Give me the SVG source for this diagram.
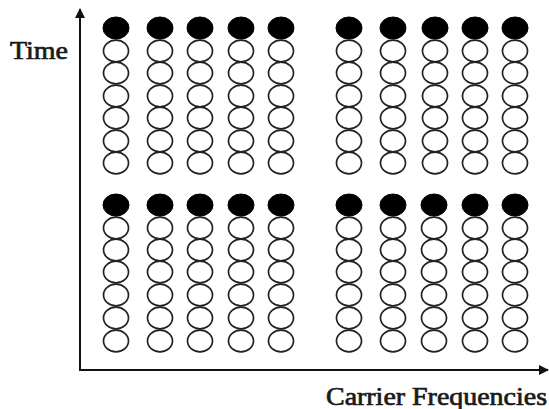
<svg xmlns="http://www.w3.org/2000/svg" xmlns:xlink="http://www.w3.org/1999/xlink" width="549" height="409" viewBox="0 0 549 409">
<style>
.o{fill:#fff;stroke:#222;stroke-width:1.7}
.f{fill:#000;stroke:#000;stroke-width:1}
.ax{stroke:#111;stroke-width:2;fill:none}
.t{font-family:"Liberation Serif","Times New Roman",serif;font-size:25px;fill:#1a1a1a;stroke:#1a1a1a;stroke-width:0.7}
</style>
<defs>
<ellipse id="eo" class="o" rx="12.5" ry="10.8"/>
<ellipse id="ef" class="f" rx="13" ry="11"/>
<marker id="ah" viewBox="0 0 10 10" refX="9" refY="5" markerWidth="10" markerHeight="10" markerUnits="userSpaceOnUse" orient="auto">
<path d="M0,0 L10,5 L0,10 Z" fill="#111"/>
</marker>
<g id="colT">
<use xlink:href="#eo" y="163"/><use xlink:href="#eo" y="141"/><use xlink:href="#eo" y="118"/><use xlink:href="#eo" y="96"/><use xlink:href="#eo" y="73"/><use xlink:href="#eo" y="51"/><use xlink:href="#ef" y="28"/>
</g>
<g id="colB">
<use xlink:href="#eo" y="341"/><use xlink:href="#eo" y="318"/><use xlink:href="#eo" y="295"/><use xlink:href="#eo" y="272"/><use xlink:href="#eo" y="250"/><use xlink:href="#eo" y="228"/><use xlink:href="#ef" y="205"/>
</g>
</defs>
<g id="connectors">
<line class="ax" x1="80" y1="370" x2="80" y2="9" marker-end="url(#ah)"/>
<line class="ax" x1="79" y1="370" x2="548" y2="370" marker-end="url(#ah)"/>
</g>
<g id="block-top-left">
<use xlink:href="#colT" x="116"/><use xlink:href="#colT" x="160"/><use xlink:href="#colT" x="200"/><use xlink:href="#colT" x="241"/><use xlink:href="#colT" x="281"/>
</g>
<g id="block-top-right">
<use xlink:href="#colT" x="349"/><use xlink:href="#colT" x="393"/><use xlink:href="#colT" x="435"/><use xlink:href="#colT" x="475"/><use xlink:href="#colT" x="515"/>
</g>
<g id="block-bottom-left">
<use xlink:href="#colB" x="116"/><use xlink:href="#colB" x="160"/><use xlink:href="#colB" x="200"/><use xlink:href="#colB" x="241"/><use xlink:href="#colB" x="281"/>
</g>
<g id="block-bottom-right">
<use xlink:href="#colB" x="349"/><use xlink:href="#colB" x="393"/><use xlink:href="#colB" x="434"/><use xlink:href="#colB" x="475"/><use xlink:href="#colB" x="515"/>
</g>
<g id="labels">
<text class="t" x="10" y="59" textLength="58" lengthAdjust="spacingAndGlyphs">Time</text>
<text class="t" x="326" y="405" textLength="221" lengthAdjust="spacingAndGlyphs">Carrier Frequencies</text>
</g>
</svg>
